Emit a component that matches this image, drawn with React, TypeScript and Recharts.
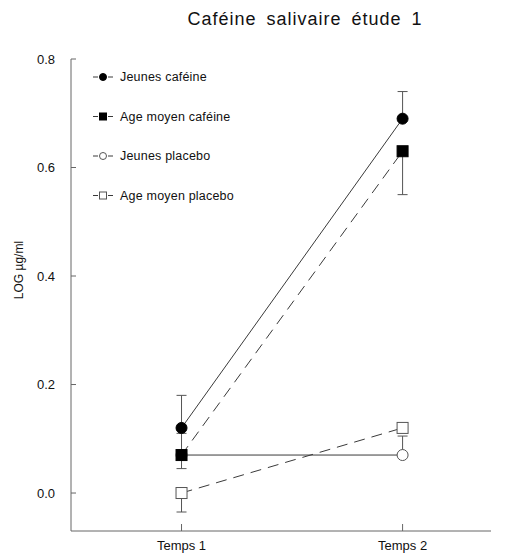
import React from 'react';
import { LineChart, Line, XAxis, YAxis, ErrorBar } from 'recharts';

const categories = ['Temps 1', 'Temps 2'];
const xPositions = [1, 2];
const seriesNames = ['Jeunes caféine', 'Age moyen caféine', 'Jeunes placebo', 'Age moyen placebo'];
const jeunesCafeine = [0.12, 0.69];
const jeunesCafeineErrUp = [0.06, 0.05];
const ageMoyenCafeine = [0.07, 0.63];
const ageMoyenCafeineErrDown = [0.025, 0.08];
const jeunesPlacebo = [0.07, 0.07];
const jeunesPlaceboErrUp = [0.04, 0.035];
const ageMoyenPlacebo = [0.0, 0.12];
const ageMoyenPlaceboErrDown = [0.035, 0.0];
const yTicks = [0, 0.2, 0.4, 0.6, 0.8];

const data = xPositions.map((x, i) => ({
  x,
  jc: jeunesCafeine[i],
  jcE: [0, jeunesCafeineErrUp[i]],
  amc: ageMoyenCafeine[i],
  amcE: [ageMoyenCafeineErrDown[i], 0],
  jp: jeunesPlacebo[i],
  jpE: [0, jeunesPlaceboErrUp[i]],
  amp: ageMoyenPlacebo[i],
  ampE: [ageMoyenPlaceboErrDown[i], 0],
}));

const FONT = '"Liberation Sans", Arial, sans-serif';
const LINE = '#3a3a3a';
const ERR = '#555';
const AXIS = '#666';

type Kind = 'fc' | 'fs' | 'oc' | 'os';

const marker = (kind: Kind, cx: number, cy: number, s: number, key?: string | number) => {
  const h = s / 2;
  if (kind === 'fc') return <circle key={key} cx={cx} cy={cy} r={h} fill="#000" stroke="#000" strokeWidth={1} />;
  if (kind === 'oc') return <circle key={key} cx={cx} cy={cy} r={h} fill="#fff" stroke="#555" strokeWidth={1} />;
  if (kind === 'fs') return <rect key={key} x={cx - h} y={cy - h} width={s} height={s} fill="#000" stroke="#000" strokeWidth={1} />;
  return <rect key={key} x={cx - h} y={cy - h} width={s} height={s} fill="#fff" stroke="#555" strokeWidth={1} />;
};

const dotFor = (kind: Kind) => (props: any) => marker(kind, props.cx, props.cy, 11, props.index);

const kinds: Kind[] = ['fc', 'fs', 'oc', 'os'];

const YTick = (props: any) => {
  const { x, y, payload } = props;
  return (
    <g>
      <line x1={x + 16} x2={x + 21} y1={y} y2={y} stroke={AXIS} strokeWidth={1} />
      <text x={x} y={y} dy="0.35em" textAnchor="end" fontSize={13} fontFamily={FONT} fill="#111">
        {Number(payload.value).toFixed(1)}
      </text>
    </g>
  );
};

const XTick = (props: any) => {
  const { x, y, payload } = props;
  return (
    <g>
      <line x1={x} x2={x} y1={y - 10} y2={y - 17} stroke={AXIS} strokeWidth={1} />
      <text x={x} y={y} dy="0.71em" textAnchor="middle" fontSize={13} fontFamily={FONT} fill="#111">
        {categories[xPositions.indexOf(payload.value)]}
      </text>
    </g>
  );
};

export default function App() {
  return (
    <div style={{ position: 'relative', width: 500, height: 549, fontFamily: FONT }}>
      <div
        style={{
          position: 'absolute', left: 147, top: 1, width: 300, textAlign: 'center',
          fontSize: 18, lineHeight: '20px', letterSpacing: 1, wordSpacing: 4, color: '#111',
        }}
      >
        Caféine salivaire étude 1
      </div>
      <div
        style={{
          position: 'absolute', left: -39, top: 254, width: 100, height: 16, lineHeight: '16px',
          textAlign: 'center', fontSize: 12, transform: 'rotate(-90deg)', color: '#111',
        }}
      >
        LOG µg/ml
      </div>
      <LineChart width={500} height={549} data={data} margin={{ top: 51, right: 17, left: 15, bottom: 0 }}>
        <XAxis
          dataKey="x"
          type="number"
          domain={[0.5, 2.4]}
          ticks={xPositions}
          height={26}
          tickLine={false}
          tickSize={0}
          tickMargin={10}
          stroke={AXIS}
          tick={<XTick />}
          allowDataOverflow
        />
        <YAxis
          type="number"
          domain={[-0.07, 0.8]}
          ticks={yTicks}
          width={48}
          tickLine={false}
          tickSize={0}
          tickMargin={16}
          stroke={AXIS}
          tick={<YTick />}
          allowDataOverflow
        />
        <Line dataKey="jp" stroke={LINE} strokeWidth={1} dot={dotFor('oc')} isAnimationActive={false}>
          <ErrorBar dataKey="jpE" width={5} stroke={ERR} strokeWidth={1} direction="y" />
        </Line>
        <Line dataKey="amp" stroke={LINE} strokeWidth={1} strokeDasharray="11 7" dot={dotFor('os')} isAnimationActive={false}>
          <ErrorBar dataKey="ampE" width={5} stroke={ERR} strokeWidth={1} direction="y" />
        </Line>
        <Line dataKey="jc" stroke={LINE} strokeWidth={1} dot={dotFor('fc')} isAnimationActive={false}>
          <ErrorBar dataKey="jcE" width={5} stroke={ERR} strokeWidth={1} direction="y" />
        </Line>
        <Line dataKey="amc" stroke={LINE} strokeWidth={1} strokeDasharray="11 7" dot={dotFor('fs')} isAnimationActive={false}>
          <ErrorBar dataKey="amcE" width={5} stroke={ERR} strokeWidth={1} direction="y" />
        </Line>
      </LineChart>
      <svg style={{ position: 'absolute', left: 0, top: 0 }} width={300} height={210}>
        {seriesNames.map((name, i) => {
          const y = 69 + i * 39.5;
          return (
            <g key={name}>
              <line x1={85} x2={90} y1={y} y2={y} stroke={LINE} strokeWidth={1} />
              <line x1={100} x2={105} y1={y} y2={y} stroke={LINE} strokeWidth={1} />
              {marker(kinds[i], 95, y, 7)}
              <text x={112} y={y} dy="0.35em" fontSize={12.5} fontFamily={FONT} fill="#111" letterSpacing={0.2}>
                {name}
              </text>
            </g>
          );
        })}
      </svg>
    </div>
  );
}
